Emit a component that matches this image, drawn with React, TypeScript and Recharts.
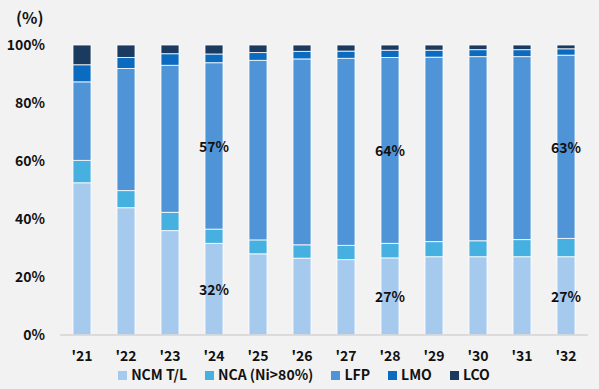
import { BarChart, Bar, XAxis, YAxis, LabelList } from "recharts";

const years = ["'21", "'22", "'23", "'24", "'25", "'26", "'27", "'28", "'29", "'30", "'31", "'32"];
const ncm = [52.5, 43.9, 36.0, 31.6, 28.0, 26.5, 26.0, 26.6, 27.0, 27.0, 27.0, 27.0];
const nca = [7.7, 5.9, 6.3, 4.9, 4.8, 4.6, 4.9, 5.0, 5.2, 5.5, 5.9, 6.3];
const lfp = [27.1, 42.1, 50.7, 57.4, 61.9, 64.1, 64.5, 64.1, 63.6, 63.5, 63.1, 63.2];
const lmo = [5.9, 3.8, 4.0, 3.0, 2.7, 2.6, 2.5, 2.5, 2.4, 2.4, 2.4, 2.2];
const lco = [6.8, 4.3, 3.0, 3.1, 2.6, 2.2, 2.1, 1.8, 1.8, 1.6, 1.6, 1.3];
const yTicks = [0, 20, 40, 60, 80, 100];
const labeledYears = ["'24", "'28", "'32"];

const series = [
  { key: "ncm", name: "NCM T/L", color: "#A6CAEE" },
  { key: "nca", name: "NCA (Ni>80%)", color: "#46B0E0" },
  { key: "lfp", name: "LFP", color: "#5094D8" },
  { key: "lmo", name: "LMO", color: "#0A6BC0" },
  { key: "lco", name: "LCO", color: "#1B3A5F" },
];

const data = years.map((year, i) => ({
  year,
  ncm: ncm[i],
  nca: nca[i],
  lfp: lfp[i],
  lmo: lmo[i],
  lco: lco[i],
}));

const FONT = "'Noto Sans CJK KR', 'Noto Sans', sans-serif";

// only a few bars carry a share label, centred in the segment
// eslint-disable-next-line @typescript-eslint/no-explicit-any
const renderShare = (props: any) => {
  const { x, y, width, height, value, index } = props;
  if (!labeledYears.includes(years[index])) return null;
  return (
    <text
      x={x + width / 2}
      y={y + height / 2}
      textAnchor="middle"
      dominantBaseline="central"
      fontFamily={FONT}
      fontWeight={700}
      fontSize={14}
      fill="#111"
    >
      {`${Math.round(value)}%`}
    </text>
  );
};

export default function App() {
  return (
    <div style={{ position: "absolute", left: 0, top: 0, width: 599, height: 389, background: "#F2F2F2", fontFamily: FONT }}>
      <div style={{ position: "absolute", left: 16, top: 5, fontSize: 16, fontWeight: 700, color: "#111" }}>(%)</div>
      <BarChart width={599} height={389} data={data} margin={{ top: 45, right: 11, bottom: 24, left: 0 }}>
        <XAxis
          dataKey="year"
          height={30}
          tickLine={false}
          axisLine={{ stroke: "#D3D3D3", strokeWidth: 1.5 }}
          tickMargin={10}
          tick={{ fontSize: 14, fontWeight: 700, fill: "#111", fontFamily: FONT }}
        />
        <YAxis
          width={60}
          domain={[0, 100]}
          ticks={yTicks}
          tickFormatter={(v) => `${v}%`}
          axisLine={false}
          tickLine={false}
          tickMargin={9}
          tick={{ fontSize: 14, fontWeight: 700, fill: "#111", fontFamily: FONT }}
        />
        {series.map((s) => (
          <Bar key={s.key} dataKey={s.key} name={s.name} stackId="a" fill={s.color} barSize={18} stroke="#FFFFFF" strokeWidth={0.8} isAnimationActive={false}>
            {(s.key === "ncm" || s.key === "lfp") && <LabelList dataKey={s.key} content={renderShare} />}
          </Bar>
        ))}
      </BarChart>
      <div style={{ position: "absolute", left: 0, top: 364, width: 599, display: "flex", justifyContent: "center", paddingLeft: 9, boxSizing: "border-box", fontSize: 14, fontWeight: 700, color: "#111" }}>
        {series.map((s) => (
          <div key={s.key} style={{ display: "flex", alignItems: "center", margin: "0 9px" }}>
            <span style={{ display: "inline-block", width: 9, height: 9, background: s.color, marginRight: 4, marginTop: 3 }} />
            <span>{s.name}</span>
          </div>
        ))}
      </div>
    </div>
  );
}
